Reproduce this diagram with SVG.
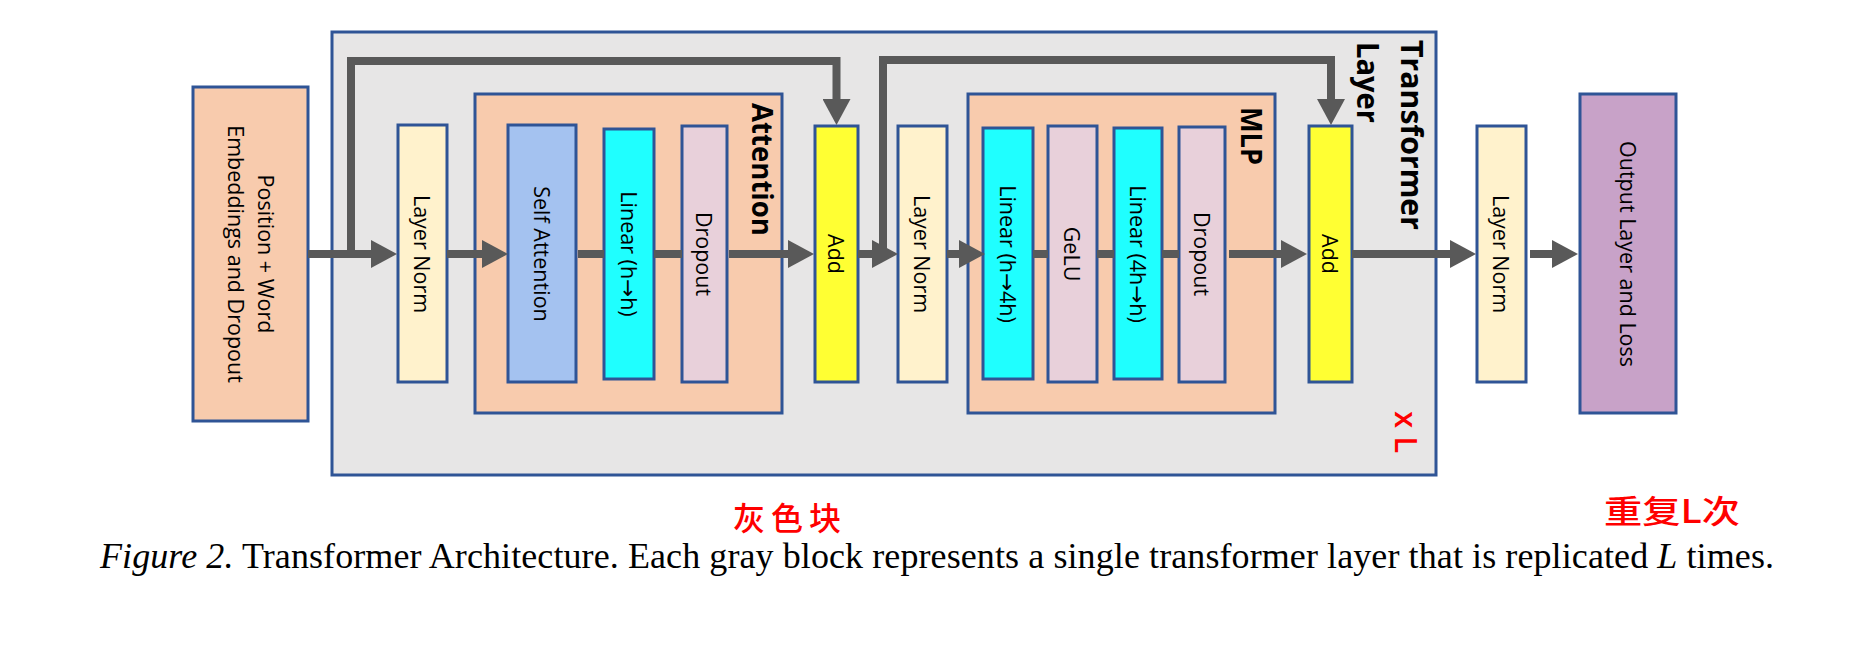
<svg xmlns="http://www.w3.org/2000/svg" width="1865" height="668" viewBox="0 0 1865 668">
<style>
.box{stroke:#2F5496;stroke-width:3}
.lbl{font-family:"Open Sans","DejaVu Sans",sans-serif;font-size:21.5px;fill:#000;text-anchor:middle;dominant-baseline:central}
.ttl{font-family:"Open Sans","DejaVu Sans",sans-serif;font-weight:bold;fill:#000}
.conn{fill:none;stroke:#595959;stroke-width:8;stroke-linejoin:miter}
.red{fill:#FF0000}
.cjk{font-family:"Noto Sans CJK SC",sans-serif;font-size:32px;font-weight:500;fill:#FF0000}
</style>
<defs>
<marker id="ah" markerUnits="userSpaceOnUse" viewBox="0 0 26 28" refX="0" refY="14" markerWidth="26" markerHeight="28" orient="auto">
<path d="M0,0 L26,14 L0,28 Z" fill="#595959"/>
</marker>
</defs>
<rect width="1865" height="668" fill="#FFFFFF"/>

<g id="embed">
<rect class="box" x="193" y="87" width="115" height="334" fill="#F8CBAD"/>
<g transform="translate(250.5,254) rotate(90)">
<text class="lbl" x="0" y="-16">Position + Word</text>
<text class="lbl" x="0" y="14">Embeddings and Dropout</text>
</g>
</g>

<g id="transformer-layer">
<rect class="box" x="332" y="32" width="1104" height="443" fill="#E7E6E6"/>
<text class="ttl" font-size="30" transform="translate(1401,40) rotate(90)" textLength="190" lengthAdjust="spacingAndGlyphs">Transformer</text>
<text class="ttl" font-size="30" transform="translate(1357,42) rotate(90)" textLength="81" lengthAdjust="spacingAndGlyphs">Layer</text>
<text font-family="Open Sans, DejaVu Sans, sans-serif" font-size="31" font-weight="600" class="red" transform="translate(1395,411) rotate(90)">x L</text>
</g>

<g id="attention">
<rect class="box" x="475" y="94" width="307" height="319" fill="#F8CBAD"/>
<text class="ttl" font-size="28" transform="translate(752,103) rotate(90)" textLength="133" lengthAdjust="spacingAndGlyphs">Attention</text>
</g>

<g id="mlp">
<rect class="box" x="968" y="94" width="307" height="319" fill="#F8CBAD"/>
<text class="ttl" font-size="28" transform="translate(1241,107) rotate(90)" textLength="58" lengthAdjust="spacingAndGlyphs">MLP</text>
</g>

<g id="layernorm1">
<rect class="box" x="398" y="125" width="49" height="257" fill="#FFF2CC"/>
<text class="lbl" transform="translate(422.5,254) rotate(90)">Layer Norm</text>
</g>
<g id="self-attention">
<rect class="box" x="508" y="125" width="68" height="257" fill="#A4C2F0"/>
<text class="lbl" transform="translate(542,254) rotate(90)">Self Attention</text>
</g>
<g id="linear-hh">
<rect class="box" x="604" y="129" width="50" height="250" fill="#1FFFFF"/>
<text class="lbl" transform="translate(629,254) rotate(90)">Linear (h→h)</text>
</g>
<g id="dropout1">
<rect class="box" x="682" y="126" width="45" height="256" fill="#E8D0DA"/>
<text class="lbl" transform="translate(704.5,254) rotate(90)">Dropout</text>
</g>
<g id="add1">
<rect class="box" x="815" y="126" width="43" height="256" fill="#FFFF33"/>
<text class="lbl" transform="translate(836.5,254) rotate(90)">Add</text>
</g>
<g id="layernorm2">
<rect class="box" x="898" y="126" width="49" height="256" fill="#FFF2CC"/>
<text class="lbl" transform="translate(922.5,254) rotate(90)">Layer Norm</text>
</g>
<g id="linear-h4h">
<rect class="box" x="983" y="128" width="50" height="251" fill="#1FFFFF"/>
<text class="lbl" transform="translate(1008,254) rotate(90)">Linear (h→4h)</text>
</g>
<g id="gelu">
<rect class="box" x="1048" y="126" width="49" height="256" fill="#E8D0DA"/>
<text class="lbl" transform="translate(1072.5,254) rotate(90)">GeLU</text>
</g>
<g id="linear-4hh">
<rect class="box" x="1114" y="128" width="48" height="251" fill="#1FFFFF"/>
<text class="lbl" transform="translate(1138,254) rotate(90)">Linear (4h→h)</text>
</g>
<g id="dropout2">
<rect class="box" x="1179" y="127" width="46" height="255" fill="#E8D0DA"/>
<text class="lbl" transform="translate(1202,254) rotate(90)">Dropout</text>
</g>
<g id="add2">
<rect class="box" x="1309" y="126" width="43" height="256" fill="#FFFF33"/>
<text class="lbl" transform="translate(1330.5,254) rotate(90)">Add</text>
</g>
<g id="layernorm3">
<rect class="box" x="1477" y="126" width="49" height="256" fill="#FFF2CC"/>
<text class="lbl" transform="translate(1501.5,254) rotate(90)">Layer Norm</text>
</g>
<g id="output">
<rect class="box" x="1580" y="94" width="96" height="319" fill="#C8A2C8"/>
<text class="lbl" transform="translate(1628,254) rotate(90)">Output Layer and Loss</text>
</g>

<g id="connectors">
<path class="conn" d="M308,254 H371" marker-end="url(#ah)"/>
<path class="conn" d="M351,258 V61 H836.5 V99" marker-end="url(#ah)"/>
<path class="conn" d="M447,254 H482" marker-end="url(#ah)"/>
<path class="conn" d="M578,254 H604"/>
<path class="conn" d="M654,254 H682"/>
<path class="conn" d="M729,254 H788" marker-end="url(#ah)"/>
<path class="conn" d="M858,254 H872" marker-end="url(#ah)"/>
<path class="conn" d="M883,258 V60 H1331 V99" marker-end="url(#ah)"/>
<path class="conn" d="M947,254 H959" marker-end="url(#ah)"/>
<path class="conn" d="M1033,254 H1048"/>
<path class="conn" d="M1097,254 H1114"/>
<path class="conn" d="M1162,254 H1179"/>
<path class="conn" d="M1229,254 H1281" marker-end="url(#ah)"/>
<path class="conn" d="M1352,254 H1450" marker-end="url(#ah)"/>
<path class="conn" d="M1530,254 H1552" marker-end="url(#ah)"/>
</g>

<text class="cjk" x="733" y="530" letter-spacing="6">灰色块</text>
<text class="cjk" x="1604" y="523" textLength="136" lengthAdjust="spacingAndGlyphs">重复L次</text>

<text x="100" y="568" font-family="Liberation Serif, Times New Roman, serif" font-size="36" fill="#000" textLength="1674" lengthAdjust="spacing"><tspan font-style="italic">Figure 2.</tspan> Transformer Architecture. Each gray block represents a single transformer layer that is replicated <tspan font-style="italic">L</tspan> times.</text>
</svg>
